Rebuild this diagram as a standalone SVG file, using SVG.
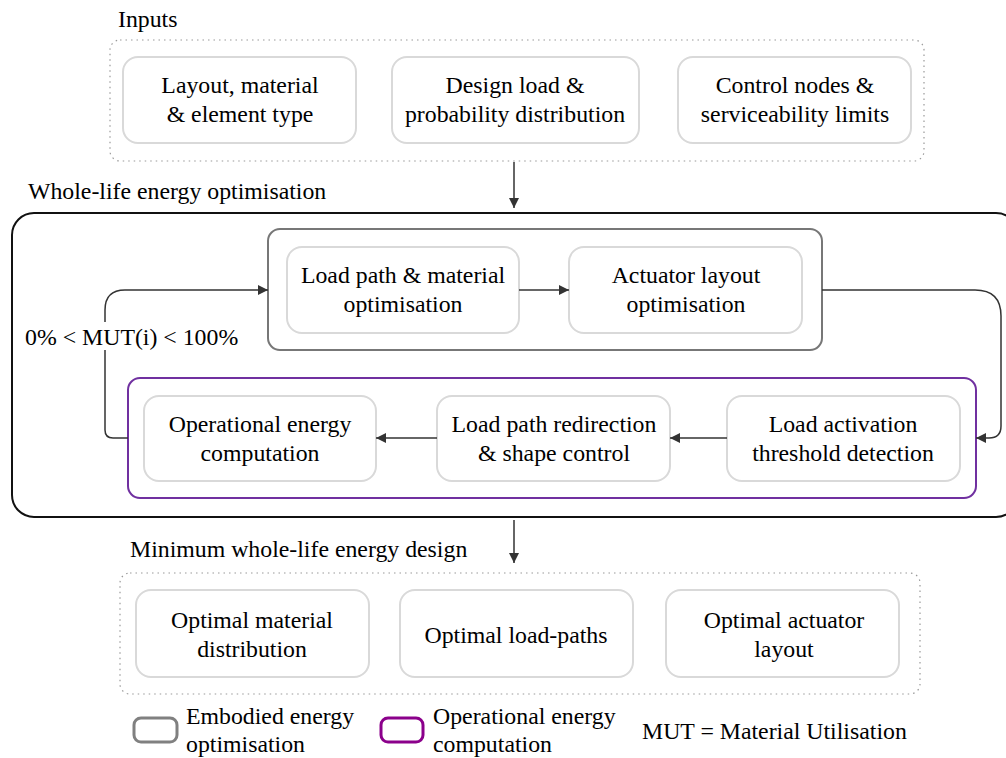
<svg xmlns="http://www.w3.org/2000/svg" width="1006" height="758" viewBox="0 0 1006 758">
<style>
text{font-family:'Liberation Serif','Times New Roman',serif;font-size:23.8px;fill:#000}
.c{text-anchor:middle}
.node{fill:#fff;stroke:#d9d9d9;stroke-width:2}
.dot{fill:none;stroke:#999;stroke-width:1.2;stroke-dasharray:1.5 4}
.conn{fill:none;stroke:#333;stroke-width:1.5}
</style>
<defs>
<marker id="ah" viewBox="0 0 10 10" refX="10" refY="5" markerWidth="10" markerHeight="10" markerUnits="userSpaceOnUse" orient="auto">
<path d="M0,0 L10,5 L0,10 z" fill="#333"/>
</marker>
</defs>
<rect width="1006" height="758" fill="#fff"/>

<g id="inputs">
<text x="118" y="27">Inputs</text>
<rect class="dot" x="110" y="40" width="814" height="121" rx="10"/>
</g>
<g id="in1"><rect class="node" x="123" y="57" width="233" height="86" rx="15"/><text class="c" x="240" y="93">Layout, material</text><text class="c" x="240" y="122">&amp; element type</text></g>
<g id="in2"><rect class="node" x="392" y="57" width="247" height="86" rx="15"/><text class="c" x="515" y="93">Design load &amp;</text><text class="c" x="515" y="122">probability distribution</text></g>
<g id="in3"><rect class="node" x="678" y="57" width="233" height="86" rx="15"/><text class="c" x="795" y="93">Control nodes &amp;</text><text class="c" x="795" y="122">serviceability limits</text></g>

<g id="whole">
<text x="28" y="199">Whole-life energy optimisation</text>
<rect x="12" y="213" width="1006" height="304" rx="22" fill="none" stroke="#111" stroke-width="2"/>
</g>
<g id="embodied"><rect x="268" y="229" width="554" height="121" rx="12" fill="none" stroke="#777" stroke-width="2"/></g>
<g id="operational"><rect x="128" y="378" width="848" height="120" rx="12" fill="none" stroke="#7030a0" stroke-width="2"/></g>

<g id="n1"><rect class="node" x="287" y="247" width="232" height="86" rx="15"/><text class="c" x="403" y="283">Load path &amp; material</text><text class="c" x="403" y="312">optimisation</text></g>
<g id="n2"><rect class="node" x="569" y="247" width="233" height="86" rx="15"/><text class="c" x="686" y="283">Actuator layout</text><text class="c" x="686" y="312">optimisation</text></g>
<g id="n3"><rect class="node" x="144" y="396" width="232" height="85" rx="15"/><text class="c" x="260" y="432">Operational energy</text><text class="c" x="260" y="461">computation</text></g>
<g id="n4"><rect class="node" x="437" y="396" width="233" height="85" rx="15"/><text class="c" x="554" y="432">Load path redirection</text><text class="c" x="554" y="461">&amp; shape control</text></g>
<g id="n5"><rect class="node" x="727" y="396" width="233" height="85" rx="15"/><text class="c" x="843" y="432">Load activation</text><text class="c" x="843" y="461">threshold detection</text></g>

<g id="connectors">
<path class="conn" d="M514,162 V208" marker-end="url(#ah)"/>
<path class="conn" d="M519,290 H569" marker-end="url(#ah)"/>
<path class="conn" d="M822,290 H975 Q1001,290 1001,316 V426 Q1001,438 989,438 H976" marker-end="url(#ah)"/>
<path class="conn" d="M727,438 H670" marker-end="url(#ah)"/>
<path class="conn" d="M437,438 H376" marker-end="url(#ah)"/>
<path class="conn" d="M128,438 H113 Q105,438 105,430 V310 Q105,290 125,290 H268" marker-end="url(#ah)"/>
<rect x="24" y="322" width="220" height="28" fill="#fff"/>
<text x="25" y="345">0% &lt; MUT(i) &lt; 100%</text>
<path class="conn" d="M514,520 V563" marker-end="url(#ah)"/>
</g>

<g id="outputs">
<text x="130" y="557">Minimum whole-life energy design</text>
<rect class="dot" x="120" y="573" width="800" height="121" rx="10"/>
</g>
<g id="out1"><rect class="node" x="136" y="590" width="233" height="87" rx="15"/><text class="c" x="252" y="628">Optimal material</text><text class="c" x="252" y="657">distribution</text></g>
<g id="out2"><rect class="node" x="400" y="590" width="233" height="87" rx="15"/><text class="c" x="516" y="643">Optimal load-paths</text></g>
<g id="out3"><rect class="node" x="666" y="590" width="233" height="87" rx="15"/><text class="c" x="784" y="628">Optimal actuator</text><text class="c" x="784" y="657">layout</text></g>

<g id="legend">
<rect x="134" y="718" width="43" height="24" rx="7" fill="none" stroke="#808080" stroke-width="3"/>
<text x="186" y="724">Embodied energy</text>
<text x="186" y="752">optimisation</text>
<rect x="381" y="718" width="42" height="24" rx="7" fill="none" stroke="#8b008b" stroke-width="3"/>
<text x="433" y="724">Operational energy</text>
<text x="433" y="752">computation</text>
<text x="642" y="739">MUT = Material Utilisation</text>
</g>
</svg>
